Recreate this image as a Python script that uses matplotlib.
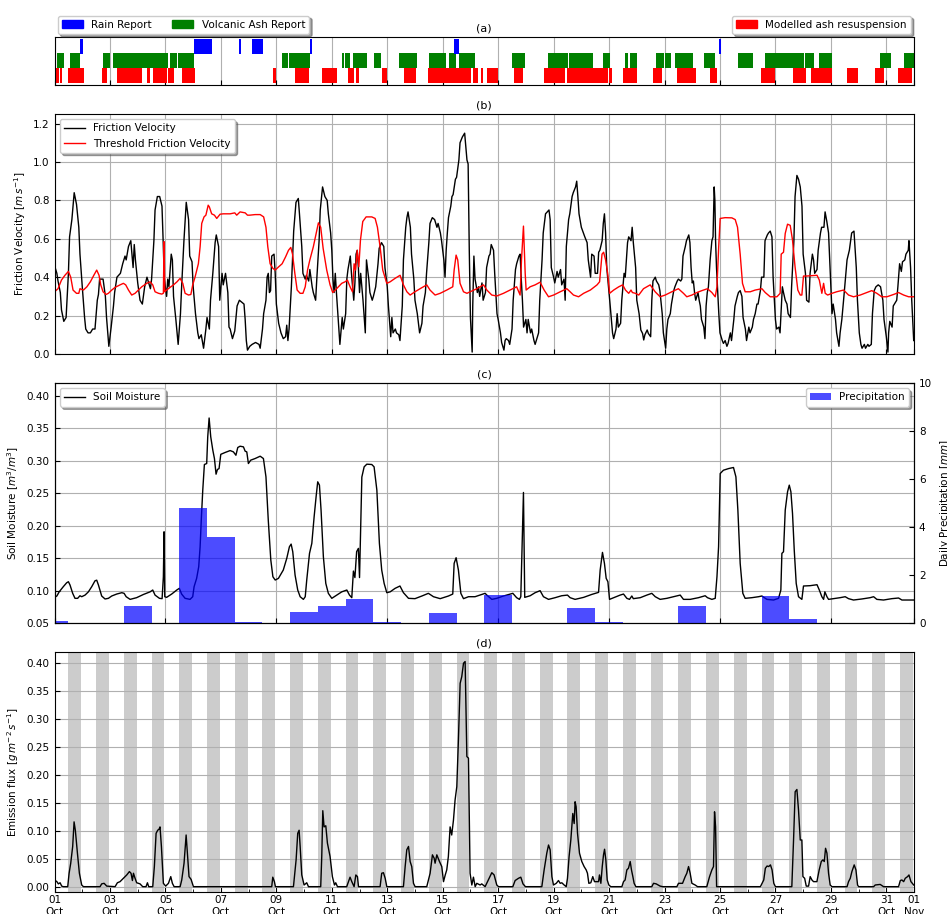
import numpy as np
import matplotlib
matplotlib.use('Agg')
import matplotlib.pyplot as plt
import matplotlib.dates as mdates
from matplotlib.patches import Patch

plt.rcParams['font.size'] = 7.5
plt.rcParams['xtick.direction'] = 'in'
plt.rcParams['ytick.direction'] = 'in'

# time axis origin; all series below are (hours since origin, value)
t0 = mdates.date2num(np.datetime64('2011-10-01T00:00'))
ndays = 31

# (a) event intervals, in days since origin
rain_reports = [(0.92, 1.03), (5.03, 5.68), (6.66, 6.73), (7.12, 7.52), (9.22, 9.29),
                (14.41, 14.59), (23.97, 24.04)]
ash_reports = [(0.0, 0.05), (0.09, 0.34), (0.56, 0.92), (1.75, 2.0), (2.11, 4.09),
               (4.17, 4.42), (4.46, 5.03), (8.21, 8.42), (8.46, 9.22), (10.37, 10.44),
               (10.48, 10.66), (10.77, 11.27), (11.53, 11.78), (12.43, 13.08),
               (13.51, 14.12), (14.23, 14.48), (14.59, 15.17), (16.5, 16.97),
               (17.8, 18.52), (18.56, 19.43), (19.79, 20.04), (20.58, 20.69),
               (20.76, 21.01), (21.7, 21.99), (22.02, 22.24), (22.38, 23.03),
               (23.43, 23.83), (24.66, 25.2), (25.63, 27.04), (27.07, 27.4),
               (27.58, 28.05), (29.78, 30.18), (30.65, 31.02)]
model_resusp = [(0.01, 0.16), (0.2, 0.27), (0.49, 1.06), (1.71, 1.89), (2.25, 3.16),
                (3.34, 3.45), (3.55, 4.06), (4.09, 4.31), (4.6, 5.07), (7.88, 7.99),
                (8.68, 9.18), (9.65, 10.19), (10.59, 10.81), (10.88, 10.99),
                (11.81, 12.0), (12.61, 13.04), (13.47, 15.03), (15.1, 15.28),
                (15.39, 15.46), (15.6, 15.99), (16.58, 16.9), (17.66, 18.42),
                (18.49, 19.97), (20.0, 20.11), (20.51, 21.01), (21.59, 21.92),
                (22.46, 23.14), (23.65, 23.9), (25.49, 25.99), (26.64, 27.11),
                (27.29, 28.05), (28.59, 28.99), (29.6, 29.93), (30.43, 30.93)]

# (b) friction velocity [m/s]
friction_velocity = [
    (0, .46), (2, .42), (3, .38), (5, .32), (6, .23), (8, .17), (10, .19), (12, .42),
    (13, .61), (15, .70), (17, .84), (19, .78), (21, .66), (22, .52), (24, .35),
    (26, .19), (27, .13), (29, .11), (31, .11), (33, .13), (35, .13), (37, .28),
    (38, .31), (39, .39), (42, .39), (44, .30), (45, .19), (47, .04), (49, .14),
    (51, .25), (52, .32), (54, .40), (57, .42), (59, .47), (61, .51), (62, .49),
    (64, .56), (66, .59), (68, .45), (69, .57), (70, .49), (72, .37), (74, .28),
    (76, .26), (78, .35), (80, .40), (81, .38), (83, .34), (84, .39), (86, .59),
    (87, .75), (89, .82), (91, .82), (93, .77), (94, .59), (95, .39), (97, .30),
    (98, .39), (99, .35), (101, .52), (102, .49), (103, .30), (105, .18), (107, .05),
    (109, .21), (110, .35), (112, .59), (114, .79), (116, .70), (117, .51), (119, .48),
    (120, .35), (122, .21), (124, .11), (125, .08), (127, .10), (129, .03), (131, .13),
    (132, .19), (134, .13), (135, .28), (137, .42), (139, .58), (140, .62), (142, .56),
    (143, .28), (145, .42), (146, .36), (148, .42), (150, .32), (151, .14), (152, .13),
    (154, .08), (156, .12), (158, .25), (160, .28), (162, .27), (164, .26), (165, .18),
    (166, .07), (167, .02), (169, .04), (171, .05), (174, .06), (177, .05), (178, .03),
    (180, .13), (181, .21), (183, .28), (184, .40), (185, .42), (186, .32), (187, .33),
    (188, .51), (190, .52), (191, .42), (192, .26), (194, .16), (196, .11), (198, .08),
    (200, .09), (201, .15), (202, .07), (203, .13), (205, .35), (207, .64), (209, .79),
    (211, .81), (212, .73), (214, .56), (215, .42), (217, .39), (218, .41), (220, .38),
    (221, .44), (223, .35), (224, .32), (226, .28), (227, .39), (229, .59), (230, .75),
    (232, .87), (234, .82), (236, .80), (237, .73), (239, .63), (240, .54), (241, .39),
    (242, .32), (243, .42), (244, .32), (246, .14), (247, .05), (249, .19), (250, .13),
    (252, .21), (253, .39), (254, .44), (256, .51), (257, .42), (259, .28), (260, .37),
    (261, .52), (262, .54), (263, .45), (264, .32), (265, .42), (266, .35), (267, .28),
    (269, .11), (270, .49), (272, .39), (273, .32), (275, .28), (276, .30), (278, .35),
    (280, .47), (281, .55), (283, .58), (285, .56), (286, .45), (288, .35), (289, .25),
    (291, .09), (292, .19), (293, .11), (295, .13), (296, .11), (298, .10), (299, .07),
    (301, .25), (302, .49), (304, .66), (305, .71), (306, .74), (308, .66), (309, .52),
    (311, .39), (312, .28), (314, .21), (315, .16), (316, .11), (318, .16), (319, .25),
    (321, .32), (322, .42), (324, .58), (325, .68), (327, .71), (329, .70), (331, .66),
    (332, .68), (334, .63), (335, .59), (337, .49), (338, .40), (339, .54), (340, .63),
    (341, .71), (343, .77), (344, .82), (345, .83), (347, .91), (348, .92), (350, 1.01),
    (351, 1.10), (353, 1.13), (354, 1.14), (355, 1.15), (357, 1.01), (358, .99),
    (359, .54), (360, .19), (361.5, .01), (362, .25), (363, .51), (364, .39), (366, .32),
    (367, .35), (368, .30), (370, .37), (371, .28), (373, .32), (374, .45), (376, .51),
    (377, .52), (378, .57), (380, .54), (381, .42), (383, .21), (384, .18), (386, .11),
    (387, .06), (389, .02), (390, .07), (391, .08), (393, .07), (394, .05), (396, .13),
    (397, .28), (399, .44), (400, .47), (402, .51), (403, .52), (404, .39), (405, .28),
    (406, .14), (408, .18), (409, .11), (410, .18), (412, .11), (413, .13), (415, .07),
    (416, .05), (417, .07), (419, .11), (420, .28), (422, .49), (423, .63), (425, .73),
    (428, .75), (429, .70), (430, .45), (432, .40), (433, .37), (435, .43), (436, .40),
    (438, .44), (439, .36), (441, .39), (442, .28), (443, .56), (445, .70), (446, .73),
    (448, .82), (449, .84), (451, .87), (452, .90), (453, .82), (454, .73), (456, .66),
    (459, .61), (461, .58), (462, .49), (464, .40), (465, .52), (467, .51), (468, .42),
    (470, .42), (471, .53), (472, .54), (474, .59), (475, .68), (476, .73), (477, .63),
    (478, .45), (480, .32), (481, .25), (483, .11), (484, .08), (486, .13), (487, .21),
    (488, .14), (490, .16), (491, .28), (493, .42), (494, .40), (496, .58), (497, .61),
    (499, .59), (500, .66), (501, .58), (503, .45), (504, .28), (506, .21), (507.5, .125),
    (509, .107), (510, .073), (511, .10), (513, .125), (514, .107), (516, .09), (517, .28),
    (518, .38), (520, .40), (521, .38), (523, .36), (524, .33), (526, .21), (527, .11),
    (529, .03), (530, .13), (531, .18), (533, .21), (534, .26), (536, .33), (537, .35),
    (539, .38), (540, .39), (542, .38), (543, .39), (544, .51), (546, .56), (547, .59),
    (549, .62), (550, .58), (551, .45), (552, .37), (553, .38), (554, .32), (555, .28),
    (557, .32), (558, .28), (559, .25), (560, .18), (562, .14), (563, .08), (564, .25),
    (565, .32), (566, .35), (567.5, .49), (569, .59), (570, .61), (571, .87),
    (571.6, .80), (572.2, .59), (573, .45), (574, .33), (575, .21), (576, .11), (578, .07),
    (579, .055), (580.5, .07), (582, .04), (583, .055), (585, .11), (586, .07), (588, .18),
    (589, .25), (591, .30), (592, .32), (593.5, .33), (595, .30), (596, .19), (598, .13),
    (599, .07), (601, .14), (602, .11), (604, .14), (605, .18), (606.5, .21), (608, .26),
    (609, .26), (611, .33), (612, .40), (614, .40), (615, .59), (617, .62), (618, .63),
    (619.5, .64), (621, .61), (622, .40), (624, .18), (625, .13), (627, .14), (628, .11),
    (630, .35), (631, .32), (632.5, .28), (634, .26), (635, .21), (637, .19), (638, .35),
    (640, .59), (641, .82), (642.6, .93), (644, .91), (645.5, .87), (647, .77), (648, .52),
    (650, .42), (651, .28), (653, .27), (654, .42), (656, .52), (657, .49), (658, .42),
    (660, .44), (661, .54), (663, .63), (664, .66), (666, .66), (667, .74), (668.5, .69),
    (670, .63), (671, .49), (673, .21), (674, .26), (676, .18), (677, .11), (679, .04),
    (680, .11), (681.5, .18), (683, .28), (686, .49), (688, .54), (690, .63), (692, .64),
    (694, .45), (695, .28), (696.6, .11), (698, .05), (699, .03), (701, .05), (702, .03),
    (704, .05), (705, .04), (707, .05), (708, .21), (709.5, .33), (711, .35), (713, .36),
    (715, .35), (717, .28), (718, .18), (720, .09), (721.4, .01), (722, .11), (723, .17),
    (725, .14), (726, .25), (727, .26), (729, .28), (730, .35), (731.5, .47), (733, .43),
    (734, .48), (736, .49), (737, .52), (739, .54), (739.6, .59), (741, .45), (742, .28),
    (743.7, .07)]

threshold_velocity = [
    (0, .324), (3, .34), (6, .385), (9, .41), (12, .43), (14, .40), (16, .333),
    (19, .316), (21, .316), (22, .34), (25, .333), (28, .35), (31, .376), (34, .41),
    (36.5, .437), (38.5, .41), (40, .36), (42, .324), (44.6, .31), (46.6, .316),
    (49.5, .333), (52.4, .347), (56.7, .36), (59.6, .368), (61.6, .36), (64, .333),
    (66.8, .307), (69.7, .316), (72.6, .333), (75.5, .35), (79.8, .368), (82.7, .376),
    (85, .36), (87, .324), (90, .316), (92.8, .312), (94.2, .316), (94.8, .585),
    (95.4, .324), (97, .333), (100, .347), (103, .36), (106, .376), (108.7, .394),
    (111, .368), (113, .316), (116, .307), (118, .31), (119.6, .36), (121.6, .40),
    (124.5, .47), (126, .558), (127.4, .68), (129.4, .714), (131, .723), (133, .775),
    (134, .766), (136, .73), (138.4, .723), (140.4, .706), (143.3, .728), (146, .73),
    (152, .73), (156, .735), (157.7, .723), (160.6, .74), (165, .735), (167, .723),
    (169, .723), (173.6, .726), (178, .726), (181, .714), (183, .66), (184.6, .558),
    (186.6, .47), (189, .446), (191, .437), (194, .454), (197, .47), (200, .506),
    (202.5, .54), (204.5, .555), (206, .52), (208, .42), (210, .333), (212.6, .316),
    (215, .316), (217, .35), (219, .437), (221, .49), (224, .558), (227, .645),
    (228.4, .683), (230.4, .66), (232.5, .55), (235.6, .437), (238.5, .36), (240.8, .32),
    (243, .333), (245.7, .35), (248.6, .368), (251.5, .376), (253.5, .385), (255.8, .35),
    (257.9, .324), (259.3, .47), (260.5, .437), (262, .54), (263.4, .454), (264.8, .593),
    (266.8, .69), (269.7, .714), (274.6, .714), (277.5, .706), (279.5, .66), (281.8, .558),
    (284.1, .437), (287.6, .368), (290.5, .376), (294.8, .394), (299.1, .41), (302, .36),
    (305, .324), (307.8, .307), (312, .324), (316.4, .34), (322.2, .36), (325, .333),
    (329.4, .307), (333.8, .316), (339.5, .333), (344.7, .35), (345.9, .437),
    (347.6, .515), (349, .49), (351, .368), (354, .324), (357, .316), (359.7, .324),
    (365.5, .34), (371.3, .36), (374.2, .333), (378.5, .307), (382.8, .302), (388.6, .316),
    (394.4, .333), (400, .35), (403, .307), (404.2, .49), (405.9, .666), (407.4, .42),
    (408.2, .333), (411.7, .35), (416, .36), (420.3, .374), (423.8, .333), (427.6, .298),
    (432, .307), (437.7, .324), (443.4, .34), (446.3, .324), (449.2, .307), (453.6, .298),
    (458, .316), (463.8, .333), (469.6, .36), (471.8, .376), (473.9, .52), (475.3, .53),
    (477, .49), (478.8, .42), (480.5, .316), (484, .333), (488.4, .35), (491.8, .36),
    (494.2, .333), (497, .316), (499, .333), (500.2, .32), (502.8, .316), (505.7, .307),
    (509.8, .34), (515.6, .36), (519.9, .324), (524.2, .298), (528.6, .307), (534.3, .324),
    (540, .34), (544.4, .316), (547.3, .298), (551.7, .307), (556, .32), (560.3, .33),
    (565.2, .34), (569, .32), (571.9, .298), (573.4, .35), (574.9, .558), (576.2, .706),
    (580.5, .71), (586.3, .709), (589.2, .70), (591.2, .66), (593.5, .52), (595.5, .368),
    (597.8, .324), (602.2, .324), (606.5, .333), (612.3, .34), (615.2, .32), (619.5, .298),
    (625.3, .298), (628.1, .316), (629, .52), (631, .53), (632.5, .628), (634.5, .676),
    (636.8, .67), (638.8, .593), (641, .454), (643.4, .333), (645.5, .307), (646.9, .307),
    (648.3, .406), (651, .406), (655.6, .408), (660, .41), (662, .385), (664.2, .316),
    (665.7, .368), (667.1, .316), (669.2, .307), (673, .316), (677, .324), (683, .333),
    (687.3, .307), (691.6, .298), (697.4, .307), (703, .32), (707.4, .33), (711.8, .316),
    (716, .298), (720.5, .298), (726.3, .31), (730.6, .32), (735, .307), (739.3, .298),
    (744, .298)]

# (c) soil moisture [m3/m3] and daily precipitation [mm], one bar per day
soil_moisture = [
    (0, .0895), (2, .0916), (4, .098), (7.6, .106), (10.5, .112), (12, .1136),
    (13.4, .1085), (15.7, .0957), (17.7, .088), (20, .088), (22, .092), (23.5, .0905),
    (26.4, .093), (29.3, .098), (32.2, .106), (35, .115), (36.5, .116), (38, .1085),
    (40.8, .0916), (43.7, .087), (46.6, .088), (49.5, .0916), (53.8, .0946), (58.2, .0967),
    (60.2, .0957), (62, .0905), (65.4, .0864), (71, .089), (77, .094), (82.7, .098),
    (85, .1008), (87, .093), (90.8, .088), (93.1, .0875), (94.2, .121), (94.8, .1906),
    (95.4, .0905), (97, .0895), (101.4, .0946), (105.8, .1008), (108, .1034), (110, .0946),
    (113, .088), (117.3, .0864), (119.6, .0905), (120.8, .106), (123, .1188),
    (124.8, .1367), (126, .1675), (127, .2086), (128.3, .2548), (129.7, .2943),
    (131.7, .2958), (132.6, .337), (133.8, .366), (135.2, .337), (137, .3164),
    (138.4, .3035), (139.8, .2794), (141, .2866), (142.4, .288), (143.9, .31),
    (147.6, .3128), (152, .3158), (154.8, .3138), (157, .3086), (158.6, .3205),
    (160.6, .3225), (163.5, .3215), (165, .3148), (166.4, .3138), (167.8, .2958),
    (169.8, .301), (173.6, .3035), (178, .3071), (180.8, .3035), (183, .2753),
    (185, .2086), (187.2, .147), (189, .1213), (191, .1162), (193.8, .1188), (198, .1316),
    (201, .1496), (203.3, .1675), (204.8, .1716), (206.2, .1598), (208.2, .1239),
    (210.5, .1008), (212.6, .0905), (215.4, .0864), (217, .0905), (218.3, .1162),
    (220.7, .1573), (222.7, .1727), (224.7, .2137), (226.4, .2445), (227.8, .2676),
    (229.3, .2625), (230.7, .2239), (232.7, .1521), (234.8, .111), (237, .0957),
    (240, .088), (244.3, .093), (248.6, .098), (253, .1008), (255.3, .093), (257.3, .089),
    (258.7, .13), (260, .12), (261.5, .16), (263, .165), (264, .12), (265, .2),
    (266, .275), (268, .2907), (270.3, .2948), (274.6, .2943), (276.6, .2907),
    (279, .2548), (281.2, .1727), (283.2, .1316), (285.3, .111), (287.6, .0967),
    (290.5, .098), (294.8, .1034), (299, .107), (302, .0967), (306.4, .088), (312, .0875),
    (318, .0916), (323.6, .0957), (328, .0905), (333.8, .0875), (341, .0916),
    (344.7, .0946), (345.9, .1419), (347.6, .1506), (349.6, .1316), (351.7, .0957),
    (354, .0875), (358.3, .0905), (364, .0905), (368.3, .093), (372.7, .0957),
    (374.2, .093), (378.5, .0864), (382.8, .088), (388.6, .0916), (394.4, .0946),
    (396.7, .0957), (400, .089), (402.4, .0864), (403.6, .0905), (405.9, .2512),
    (407, .0895), (411.7, .092), (416, .0967), (420.3, .0998), (423.2, .0905),
    (427.6, .0864), (433.3, .089), (439, .092), (444, .093), (446.3, .089), (450.6, .0864),
    (458, .0895), (465, .094), (470.9, .0972), (472.3, .1316), (474.3, .1588),
    (476, .1419), (477.5, .1188), (479, .1136), (480.4, .0864), (484, .089),
    (489.6, .093), (492.5, .0946), (495.4, .088), (497.7, .0864), (499.7, .0916),
    (501, .0875), (507, .089), (512.7, .093), (517, .0957), (520, .0905), (524.2, .0864),
    (530, .088), (535.8, .0905), (541.6, .093), (544.4, .0864), (550.2, .0864),
    (557.4, .089), (563.2, .092), (565.2, .089), (569, .0864), (571.9, .088),
    (573.4, .1213), (574.8, .1675), (576.2, .2804), (579, .2855), (583.4, .288),
    (587.7, .2897), (589.8, .2753), (591.5, .224), (593.5, .1419), (595.8, .0957),
    (597.8, .088), (603.6, .089), (609.4, .0905), (612.3, .0916), (616.6, .0864),
    (622.4, .0854), (626.7, .088), (628.7, .1008), (629.6, .1573), (631, .1598),
    (632.5, .224), (634.5, .2522), (636, .2625), (637.4, .2522), (638.8, .2188),
    (640.3, .1624), (642, .111), (644, .0905), (646.9, .0864), (648.3, .107),
    (654, .1075), (660, .109), (662, .1008), (664.2, .0905), (665.7, .0864),
    (666.8, .098), (668.6, .0905), (670, .0864), (674.3, .0875), (680, .089),
    (684.4, .0905), (687.3, .0875), (691.6, .0854), (698.8, .087), (706, .089),
    (709, .0905), (711.8, .0864), (717.6, .0854), (724.8, .0875), (730.6, .0885),
    (733.5, .0854), (744, .0854)]

precip_days = list(range(32))
precip_mm = [0.08, 0, 0, 0.71, 0, 4.80, 3.59, 0.03, 0, 0.46, 0.71, 1.0, 0.03, 0, 0.42, 0,
             1.17, 0, 0, 0.63, 0.03, 0, 0, 0.71, 0, 0, 1.13, 0.17, 0, 0, 0, 0]

# (d) emission flux [g m-2 s-1]
emission_flux = [
    (0, .012), (2, .009), (3.3, .005), (4.8, .007), (6.2, .001), (7.6, 0), (11.4, 0),
    (12.6, .024), (14, .042), (15.7, .072), (16.9, .116), (18, .101), (19.8, .06),
    (21.5, .024), (23.5, .003), (25, 0), (39.4, 0), (40.8, .005), (42.9, .006),
    (45.2, .001), (52.4, 0), (54.4, .007), (56.7, .009), (59.6, .015), (61, .018),
    (62.5, .021), (64.8, .027), (66.2, .024), (67.4, .011), (68.3, .024), (69.7, .015),
    (71.1, .007), (74, .005), (76.3, 0), (79.2, 0), (80.4, .007), (81.5, 0), (85, 0),
    (86.4, .036), (87.9, .0955), (89.3, .101), (90.5, .103), (91.3, .107), (92.5, .072),
    (94.2, .006), (96.2, .001), (98.6, .006), (100.6, .018), (102, .006), (103.5, 0),
    (108.7, 0), (110.1, .012), (112.1, .042), (113.9, .0925), (115, .06), (116.4, .018),
    (118.2, .013), (120.2, 0), (188, 0), (188.9, .017), (190.3, .009), (191.2, 0),
    (206.8, 0), (209.1, .048), (210.5, .0955), (211.7, .101), (212.6, .072), (214, .021),
    (216, .003), (218.3, .007), (219.8, 0), (230.4, 0), (231.3, .054), (232.2, .136),
    (233.3, .107), (234.8, .109), (236.2, .078), (238.5, .054), (240.5, .018),
    (242.3, .003), (243.4, .007), (244.9, 0), (252.9, 0), (254.4, .009), (255.8, .017),
    (257.3, .009), (259.3, 0), (260.8, .021), (262.2, .018), (263.1, 0), (281.8, 0),
    (283.2, .024), (284.7, .025), (286.2, .015), (287.6, 0), (302, 0), (303.5, .036),
    (304.9, .066), (306.4, .072), (307.8, .045), (309.2, .036), (310.7, .006), (312.1, 0),
    (322.2, 0), (325.1, .024), (327.1, .057), (328.6, .051), (329.4, .042), (330.9, .057),
    (333.2, .045), (335.2, .036), (336.7, .009), (338.2, .021), (339.5, .03),
    (340.9, .054), (342.4, .107), (343.8, .0925), (345.3, .119), (346.7, .155),
    (348.2, .179), (349.6, .263), (351.1, .364), (352.5, .376), (354, .40), (355.4, .403),
    (356.9, .233), (358.3, .23), (359.7, .024), (361.2, .003), (362.6, .017), (364.1, 0),
    (365.5, .006), (368.4, .003), (369.8, .005), (372.7, 0), (375.5, .012), (378.5, .025),
    (380.5, .021), (382.8, .003), (384.3, 0), (396.7, 0), (398.7, .011), (401.6, .015),
    (403.6, .017), (405.5, .005), (407.6, 0), (421.8, 0), (423.8, .03), (426.1, .06),
    (427.6, .0746), (429, .066), (430.5, .018), (431.9, .003), (434.3, .006),
    (436.2, .011), (437.7, .006), (439.1, .007), (441.1, .003), (442.9, 0), (444, .015),
    (445.4, .054), (446.9, .0836), (448.6, .131), (449.8, .113), (450.6, .152),
    (451.5, .143), (452.7, .0955), (454.4, .06), (456.4, .045), (458.4, .036),
    (460.2, .03), (461.3, .024), (462.5, .006), (464.2, .007), (465.9, .018),
    (467.4, .009), (470.9, .009), (471.7, .021), (472.9, .006), (474.1, .036),
    (475.2, .057), (476.1, .067), (477.2, .048), (478.4, .012), (479.8, .003), (481.5, 0),
    (491.1, 0), (492.5, .009), (493.9, .012), (495.4, .03), (496.8, .033), (498.3, .045),
    (499.4, .03), (500.6, .018), (501.7, .006), (503.2, 0), (517, 0), (518.5, .006),
    (520.8, .005), (524.2, .001), (526.5, 0), (538.7, 0), (540.1, .006), (543.6, .006),
    (545.9, .018), (547.3, .024), (548.8, .036), (550.2, .024), (551.7, .006),
    (554.5, .003), (556.6, 0), (564.6, 0), (567, .018), (569, .03), (570.4, .036),
    (571.3, .134), (572.2, .107), (573.1, 0), (611, 0), (612.4, .006), (613.9, .012),
    (615.3, .033), (616.8, .037), (618.2, .036), (619.7, .039), (621.1, .03),
    (622.6, .006), (624, 0), (638.2, 0), (639.7, .0836), (641.1, .17), (642.6, .174),
    (644, .137), (645.5, .0836), (646.9, .0836), (647.8, .018), (649.3, .015),
    (650.7, .001), (652.7, .001), (654.1, .018), (655.6, .012), (657, .009), (659.9, .009),
    (661.9, .03), (663.7, .045), (665.1, .048), (666.3, .045), (667.4, .0687),
    (668.6, .06), (670, .024), (671.4, .003), (672.9, 0), (686, 0), (687.3, .009),
    (688.8, .015), (690.2, .027), (692.2, .039), (693.7, .03), (695.1, .003), (696, 0),
    (709, 0), (710.4, .003), (714.7, .004), (717.6, 0), (730.6, 0), (732.1, .011),
    (733.5, .012), (735, .009), (736.4, .015), (738.4, .018), (739.6, .021),
    (741.3, .009), (743.7, .003)]

# daylight window shaded in (d), fraction of each day
day_start, day_end = 0.5, 0.96


def series(pairs):
    arr = np.array(pairs, dtype=float)
    return t0 + arr[:, 0] / 24.0, arr[:, 1]


def date_axis(ax, step=2):
    ax.set_xlim(t0, t0 + ndays)
    ax.xaxis_date()
    ax.xaxis.set_major_locator(mdates.DayLocator(bymonthday=range(1, 32, step)))
    ax.xaxis.set_major_formatter(mdates.DateFormatter('%d\n%b'))


fig = plt.figure(figsize=(9.47, 9.14), dpi=100)
left, width = 0.0576, 0.9076
ax_a = fig.add_axes([left, 0.907, width, 0.0525])
ax_b = fig.add_axes([left, 0.6127, width, 0.2626])
ax_c = fig.add_axes([left, 0.3184, width, 0.2626])
ax_d = fig.add_axes([left, 0.0244, width, 0.2622])

# (a) reports and modelled resuspension
for rows, ypos, col in [(model_resusp, 0.05, 'red'), (ash_reports, 0.35, 'green'),
                        (rain_reports, 0.65, 'blue')]:
    ax_a.broken_barh([(t0 + s, e - s) for s, e in rows], (ypos, 0.31), color=col, lw=0)
date_axis(ax_a)
ax_a.set_ylim(0, 1)
ax_a.set_yticks([])
ax_a.tick_params(labelbottom=False)
ax_a.grid(axis='x')
ax_a.set_axisbelow(True)
ax_a.set_title('(a)', fontsize=8, pad=4)
leg1 = ax_a.legend(handles=[Patch(color='blue', label='Rain Report'),
                            Patch(color='green', label='Volcanic Ash Report')],
                   loc='lower left', bbox_to_anchor=(0.0, 1.0), ncol=2, shadow=True,
                   borderaxespad=0.3, columnspacing=2.0)
ax_a.add_artist(leg1)
ax_a.legend(handles=[Patch(color='red', label='Modelled ash resuspension')],
            loc='lower right', bbox_to_anchor=(1.0, 1.0), shadow=True, borderaxespad=0.3)

# (b) friction velocity vs threshold
x, y = series(friction_velocity)
ax_b.plot(x, y, color='black', lw=1.0, label='Friction Velocity')
x, y = series(threshold_velocity)
ax_b.plot(x, y, color='red', lw=1.0, label='Threshold Friction Velocity')
date_axis(ax_b)
ax_b.set_ylim(0, 1.25)
ax_b.set_yticks(np.arange(0, 1.21, 0.2))
ax_b.tick_params(labelbottom=False)
ax_b.grid(True)
ax_b.set_ylabel('Friction Velocity [$m\\,s^{-1}$]')
ax_b.set_title('(b)', fontsize=8, pad=4)
ax_b.legend(loc='upper left', shadow=True)

# (c) soil moisture with daily precipitation on a second axis
x, y = series(soil_moisture)
ax_c.plot(x, y, color='black', lw=1.0, label='Soil Moisture')
date_axis(ax_c, step=4)
ax_c.set_ylim(0.05, 0.42)
ax_c.set_yticks(np.arange(0.05, 0.401, 0.05))
ax_c.tick_params(labelbottom=False)
ax_c.grid(True)
ax_c.set_ylabel('Soil Moisture [$m^3/m^3$]')
ax_c.set_title('(c)', fontsize=8, pad=4)
ax_c.legend(loc='upper left', shadow=True)
ax_c2 = ax_c.twinx()
ax_c2.bar(t0 + np.array(precip_days), precip_mm, width=1.0, color='blue', alpha=0.7,
          label='Precipitation')
ax_c2.set_ylim(0, 10)
ax_c2.set_ylabel('Daily Precipitation [$mm$]')
ax_c2.legend(loc='upper right', shadow=True)
ax_c2.set_xlim(t0, t0 + ndays)

# (d) emission flux with daylight shading
for d in range(ndays):
    ax_d.axvspan(t0 + d + day_start, t0 + d + day_end, color='0.8', lw=0, zorder=0.5)
x, y = series(emission_flux)
ax_d.plot(x, y, color='black', lw=1.0)
date_axis(ax_d)
ax_d.xaxis.set_minor_locator(mdates.DayLocator())
ax_d.tick_params(axis='x', which='minor', length=2.5)
ax_d.tick_params(axis='x', which='major', pad=2.5)
ax_d.set_ylim(-0.009, 0.42)
ax_d.set_yticks(np.arange(0, 0.401, 0.05))
ax_d.grid(axis='y')
ax_d.set_ylabel('Emission flux [$g\\,m^{-2}\\,s^{-1}$]')
ax_d.set_title('(d)', fontsize=8, pad=4)

fig.savefig('out.png', dpi=100)
